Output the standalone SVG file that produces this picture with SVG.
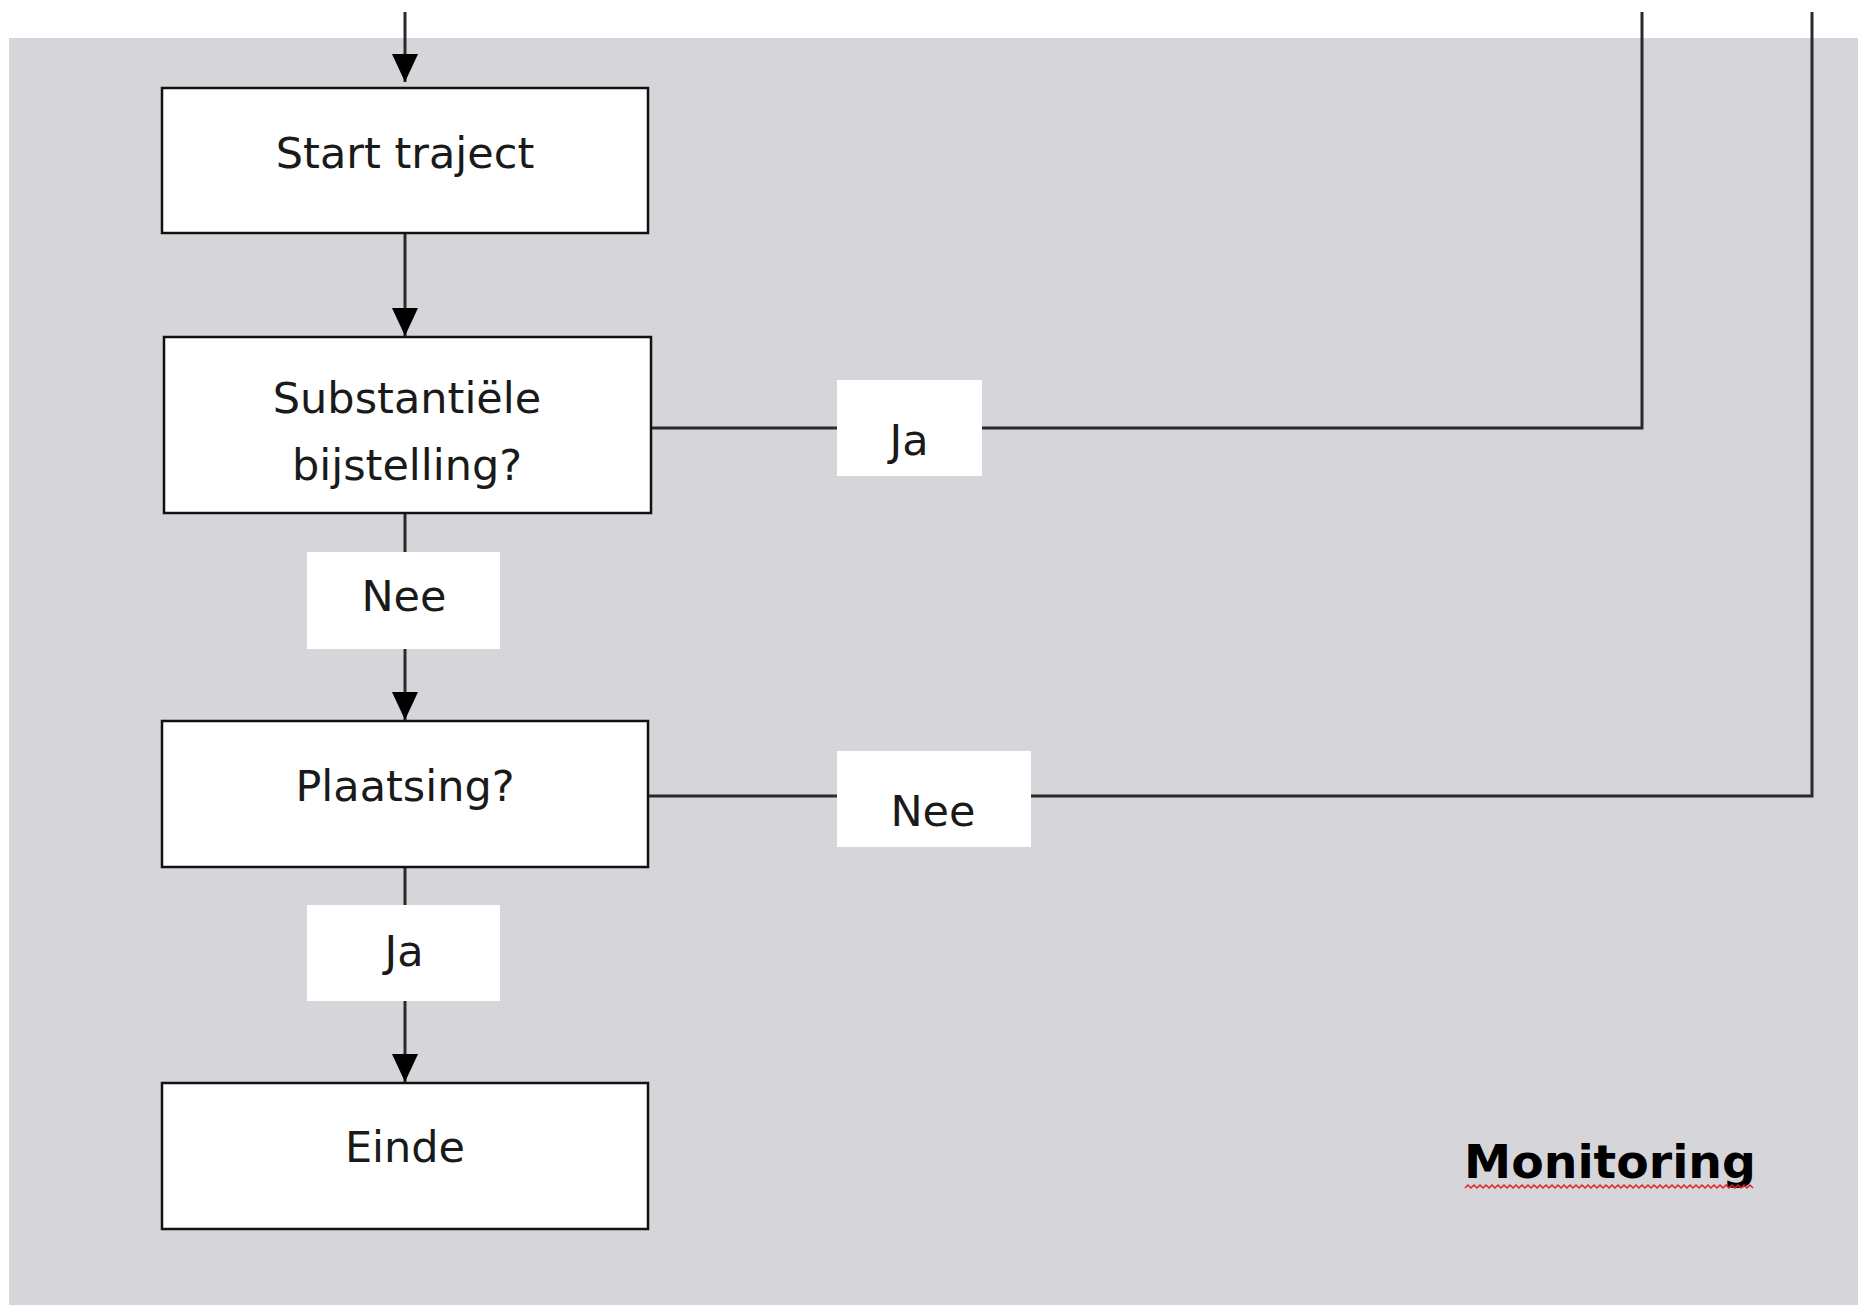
<svg xmlns="http://www.w3.org/2000/svg" width="1867" height="1305" viewBox="0 0 1867 1305">
<style>
.box{fill:#fff;stroke:#111;stroke-width:2.5}
.lbl{fill:#fff;stroke:none}
.t{font-family:"DejaVu Sans","Verdana",sans-serif;font-size:43px;fill:#1a1a1a;text-anchor:middle}
.c{fill:none;stroke:#2a2a2a;stroke-width:3}
.m{font-family:"DejaVu Sans","Verdana",sans-serif;font-size:46px;font-weight:bold;fill:#000}
</style>
<defs>
<marker id="arr" markerWidth="28" markerHeight="26" refX="28" refY="13" orient="auto" markerUnits="userSpaceOnUse" viewBox="0 0 28 26">
<path d="M0,0 L28,13 L0,26 Z" fill="#000"/>
</marker>
</defs>
<rect x="0" y="0" width="1867" height="1305" fill="#fff"/>
<rect x="9" y="38" width="1849" height="1267" fill="#d6d6da"/>
<g id="connectors">
<line class="c" x1="405" y1="12" x2="405" y2="82" marker-end="url(#arr)"/>
<line class="c" x1="405" y1="233" x2="405" y2="336" marker-end="url(#arr)"/>
<line class="c" x1="405" y1="513" x2="405" y2="720" marker-end="url(#arr)"/>
<line class="c" x1="405" y1="867" x2="405" y2="1082" marker-end="url(#arr)"/>
<polyline class="c" points="651,428 1642,428 1642,12"/>
<polyline class="c" points="643,796 1812,796 1812,12"/>
</g>
<g id="label-nee-1"><rect class="lbl" x="307" y="552" width="193" height="97"/><text class="t" x="404" y="611">Nee</text></g>
<g id="label-ja-1"><rect class="lbl" x="307" y="905" width="193" height="96"/><text class="t" x="404" y="966">Ja</text></g>
<g id="label-ja-2"><rect class="lbl" x="837" y="380" width="145" height="96"/><text class="t" x="909" y="455">Ja</text></g>
<g id="label-nee-2"><rect class="lbl" x="837" y="751" width="194" height="96"/><text class="t" x="933" y="826">Nee</text></g>
<g id="node-start"><rect class="box" x="162" y="88" width="486" height="145"/><text class="t" x="405" y="168">Start traject</text></g>
<g id="node-bijstelling"><rect class="box" x="164" y="337" width="487" height="176"/><text class="t" x="407" y="413">Substantiële</text><text class="t" x="407" y="480">bijstelling?</text></g>
<g id="node-plaatsing"><rect class="box" x="162" y="721" width="486" height="146"/><text class="t" x="405" y="801">Plaatsing?</text></g>
<g id="node-einde"><rect class="box" x="162" y="1083" width="486" height="146"/><text class="t" x="405" y="1162">Einde</text></g>
<g id="monitoring"><text class="m" x="1464" y="1178" textLength="292" lengthAdjust="spacingAndGlyphs">Monitoring</text>
<path d="M1465,1188 l3,-3 l3,3 l3,-3 l3,3 l3,-3 l3,3 l3,-3 l3,3 l3,-3 l3,3 l3,-3 l3,3 l3,-3 l3,3 l3,-3 l3,3 l3,-3 l3,3 l3,-3 l3,3 l3,-3 l3,3 l3,-3 l3,3 l3,-3 l3,3 l3,-3 l3,3 l3,-3 l3,3 l3,-3 l3,3 l3,-3 l3,3 l3,-3 l3,3 l3,-3 l3,3 l3,-3 l3,3 l3,-3 l3,3 l3,-3 l3,3 l3,-3 l3,3 l3,-3 l3,3 l3,-3 l3,3 l3,-3 l3,3 l3,-3 l3,3 l3,-3 l3,3 l3,-3 l3,3 l3,-3 l3,3 l3,-3 l3,3 l3,-3 l3,3 l3,-3 l3,3 l3,-3 l3,3 l3,-3 l3,3 l3,-3 l3,3 l3,-3 l3,3 l3,-3 l3,3 l3,-3 l3,3 l3,-3 l3,3 l3,-3 l3,3 l3,-3 l3,3 l3,-3 l3,3 l3,-3 l3,3 l3,-3 l3,3 l3,-3 l3,3 l3,-3 l3,3 l3,-3 l3,3" fill="none" stroke="#e82020" stroke-width="1.5"/>
</g>
</svg>
